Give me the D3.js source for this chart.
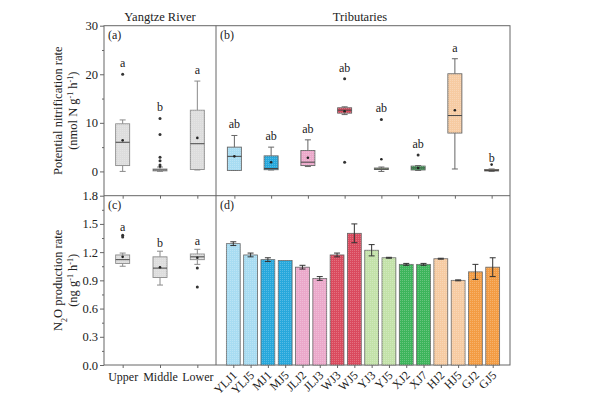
<!DOCTYPE html>
<html><head><meta charset="utf-8">
<script src="https://cdn.jsdelivr.net/npm/d3@7"></script>
<style>
body{margin:0;background:#fff}
text{font-family:"Liberation Serif","Times New Roman",serif;fill:#222}
</style>
</head><body><div id="chart"></div>
<script>
var rivers = ["Upper","Middle","Lower"]
var tribs = ["YLJ","MJ","JLJ","WJ","YJ","XJ","HJ","GJ"]
var sites = ["YLJ1","YLJ5","MJ1","MJ5","JLJ2","JLJ3","WJ3","WJ5","YJ3","YJ5","XJ2","XJ7","HJ2","HJ5","GJ2","GJ5"]
var tribColors = ["#a8dcf2","#27a8dc","#eba8ca","#da4a5e","#c3e2a9","#3db55b","#f6cba2","#f39c43"]

// boxes are [min, q1, median, q3, max]
var nitrRiverBox = [[0,1.2,6.0,9.8,10.6],[0,0.1,0.3,0.5,0.9],[0.3,0.4,5.7,12.6,18.6]]
var nitrRiverMean = [6.4,1.0,6.9]
var nitrRiverOut = [[20],[10.9,7.6,2.9,2.2,1.3],[]]
var nitrRiverSig = ["a","b","a"]

var nitrTribBox = [[0.2,0.2,3.1,5.0,7.4],[0.3,0.35,0.6,3.2,5.0],[1.0,1.2,1.9,4.3,6.5],[11.7,12.0,12.6,13.1,13.3],
                   [0,0.4,0.5,0.7,0.9],[0.2,0.3,0.7,1.1,1.2],[0.5,7.9,11.5,20.1,23.2],[0,0.1,0.2,0.4,0.5]]
var nitrTribMean = [3.1,1.9,2.8,12.4,2.5,0.7,12.6,1.4]
var nitrTribOut = [[],[],[],[19.1,1.9],[10.7],[3.4],[],[]]
var nitrTribSig = ["ab","ab","ab","ab","ab","ab","a","b"]

var n2oRiverBox = [[1.05,1.08,1.12,1.17,1.19],[0.85,0.93,1.03,1.15,1.21],[1.07,1.12,1.15,1.18,1.23]]
var n2oRiverMean = [1.15,1.04,1.14]
var n2oRiverOut = [[1.38,1.36],[],[1.03,0.83]]
var n2oRiverSig = ["a","b","a"]

var n2oSite = [1.29,1.17,1.12,1.11,1.04,0.92,1.17,1.40,1.22,1.14,1.07,1.07,1.13,0.90,0.99,1.04]
var n2oSiteErr = [0.02,0.02,0.02,0.0,0.02,0.02,0.02,0.10,0.06,0.005,0.01,0.01,0.005,0.005,0.08,0.10]

var W = 600, Hh = 404
var L = 104, M = 216, R = 510, T = 25.7, H = 195.7, B = 365
var frameCol = "#666"

var svg = d3.select("#chart").append("svg").attr("width",W).attr("height",Hh)

// faint dotted texture like the original fills
var pat = svg.append("defs").append("pattern").attr("id","dots").attr("width",2).attr("height",2).attr("patternUnits","userSpaceOnUse")
pat.append("rect").attr("width",1).attr("height",1).attr("fill","#fff").attr("opacity",0.22)

var xRiver = d3.scalePoint().domain(rivers).range([L,M]).padding(0.5)
var xTrib = d3.scalePoint().domain(tribs).range([M,R]).padding(0.5)
var xSite = d3.scalePoint().domain(sites).range([M,R]).padding(1)
var yNitr = d3.scaleLinear().domain([-5,30]).range([H,T])
var yN2o = d3.scaleLinear().domain([0,1.8]).range([B,H])

function boxes(cats,x,y,box,mean,out,sig,fill,stroke,off){
	var bw = 14, cw = 6
	var g = svg.append("g")
	cats.forEach(function(c,i){
		var b = box[i], cx = x(c)
		var gg = g.append("g")
		gg.append("line").attr("x1",cx).attr("x2",cx).attr("y1",y(b[4])).attr("y2",y(b[3])).attr("stroke",stroke)
		gg.append("line").attr("x1",cx).attr("x2",cx).attr("y1",y(b[1])).attr("y2",y(b[0])).attr("stroke",stroke)
		gg.append("line").attr("x1",cx-cw/2).attr("x2",cx+cw/2).attr("y1",y(b[4])).attr("y2",y(b[4])).attr("stroke",stroke)
		gg.append("line").attr("x1",cx-cw/2).attr("x2",cx+cw/2).attr("y1",y(b[0])).attr("y2",y(b[0])).attr("stroke",stroke)
		var bh = Math.max(1.5,y(b[1])-y(b[3]))
		gg.append("rect").attr("x",cx-bw/2).attr("width",bw)
			.attr("y",y(b[3])).attr("height",bh)
			.attr("fill",fill[i]).attr("stroke",stroke).attr("stroke-width",0.9)
		gg.append("rect").attr("x",cx-bw/2).attr("width",bw).attr("y",y(b[3])).attr("height",bh).attr("fill","url(#dots)")
		gg.append("line").attr("x1",cx-bw/2).attr("x2",cx+bw/2).attr("y1",y(b[2])).attr("y2",y(b[2])).attr("stroke","#444")
		gg.append("circle").attr("cx",cx).attr("cy",y(mean[i])).attr("r",1.3).attr("fill","#222")
		out[i].forEach(function(v){
			gg.append("circle").attr("cx",cx).attr("cy",y(v)).attr("r",1.5).attr("fill","#333")
		})
		var top = d3.max([b[4]].concat(out[i]))
		gg.append("text").attr("x",cx).attr("y",y(top)-off).attr("text-anchor","middle")
			.style("font-size","12px").text(sig[i])
	})
}

// frame
svg.append("rect").attr("x",L).attr("y",T).attr("width",R-L).attr("height",B-T)
	.attr("fill","none").attr("stroke",frameCol)
svg.append("line").attr("x1",M).attr("x2",M).attr("y1",T).attr("y2",B).attr("stroke",frameCol)
svg.append("line").attr("x1",L).attr("x2",R).attr("y1",H).attr("y2",H).attr("stroke",frameCol)

// bars
var bw = xSite.step()*0.8
var bars = svg.append("g")
sites.forEach(function(s,i){
	var cx = xSite(s), col = tribColors[Math.floor(i/2)]
	bars.append("rect").attr("x",cx-bw/2).attr("width",bw).attr("y",yN2o(n2oSite[i])).attr("height",B-yN2o(n2oSite[i]))
		.attr("fill",col).attr("stroke","#666").attr("stroke-width",0.8)
	bars.append("rect").attr("x",cx-bw/2).attr("width",bw).attr("y",yN2o(n2oSite[i])).attr("height",B-yN2o(n2oSite[i]))
		.attr("fill","url(#dots)")
	var e = n2oSiteErr[i]
	if (e>0){
		bars.append("line").attr("x1",cx).attr("x2",cx).attr("y1",yN2o(n2oSite[i]-e)).attr("y2",yN2o(n2oSite[i]+e)).attr("stroke","#333")
		bars.append("line").attr("x1",cx-3).attr("x2",cx+3).attr("y1",yN2o(n2oSite[i]+e)).attr("y2",yN2o(n2oSite[i]+e)).attr("stroke","#333")
		bars.append("line").attr("x1",cx-3).attr("x2",cx+3).attr("y1",yN2o(n2oSite[i]-e)).attr("y2",yN2o(n2oSite[i]-e)).attr("stroke","#333")
	}
})

boxes(rivers,xRiver,yNitr,nitrRiverBox,nitrRiverMean,nitrRiverOut,nitrRiverSig,["#ddd","#ddd","#ddd"],"#8a8a8a",7)
boxes(tribs,xTrib,yNitr,nitrTribBox,nitrTribMean,nitrTribOut,nitrTribSig,tribColors,"#666",7)
boxes(rivers,xRiver,yN2o,n2oRiverBox,n2oRiverMean,n2oRiverOut,n2oRiverSig,["#ddd","#ddd","#ddd"],"#8a8a8a",4)

// axes
function clean(g){ g.select(".domain").remove(); g.selectAll(".tick line").attr("stroke",frameCol); g.selectAll("text").style("font-size","12.5px").attr("fill","#222") }
svg.append("g").attr("transform","translate("+L+",0)")
	.call(d3.axisLeft(yNitr).tickValues([0,10,20,30]).tickSize(4).tickPadding(2)).call(clean)
svg.append("g").attr("transform","translate("+L+",0)")
	.call(d3.axisLeft(yNitr).tickValues([5,15,25]).tickSize(2).tickFormat("")).call(clean)
svg.append("g").attr("transform","translate("+L+",0)")
	.call(d3.axisLeft(yN2o).tickValues([0,0.3,0.6,0.9,1.2,1.5,1.8]).tickFormat(d3.format(".1f")).tickSize(4).tickPadding(2)).call(clean)
svg.append("g").attr("transform","translate("+L+",0)")
	.call(d3.axisLeft(yN2o).tickValues([0.15,0.45,0.75,1.05,1.35,1.65]).tickSize(2).tickFormat("")).call(clean)

svg.append("g").attr("transform","translate(0,"+H+")").call(d3.axisBottom(xRiver).tickSize(3).tickFormat("")).call(clean)
svg.append("g").attr("transform","translate(0,"+H+")").call(d3.axisBottom(xTrib).tickSize(3).tickFormat("")).call(clean)
var rx = svg.append("g").attr("transform","translate(0,"+B+")").call(d3.axisBottom(xRiver).tickSize(3).tickPadding(4)).call(clean)
rx.selectAll("text").style("font-size","12px")
var sx = svg.append("g").attr("transform","translate(0,"+B+")").call(d3.axisBottom(xSite).tickSize(3)).call(clean)
sx.selectAll(".tick text").attr("text-anchor","end").attr("dy",null).attr("y",0).style("font-size","12px")
	.attr("transform","translate(4,11) rotate(-45)")

// titles
svg.append("text").attr("x",(L+M)/2).attr("y",21).attr("text-anchor","middle").style("font-size","12.5px").text("Yangtze River")
svg.append("text").attr("x",(M+R)/2-3).attr("y",21).attr("text-anchor","middle").style("font-size","12.5px").text("Tributaries")

svg.append("text").attr("x",L+4).attr("y",T+13).style("font-size","12px").text("(a)")
svg.append("text").attr("x",M+4).attr("y",T+13).style("font-size","12px").text("(b)")
svg.append("text").attr("x",L+4).attr("y",H+13).style("font-size","12px").text("(c)")
svg.append("text").attr("x",M+4).attr("y",H+13).style("font-size","12px").text("(d)")

// y titles
function ytitle(cx,cy,parts){
	var t = svg.append("text").attr("transform","translate("+cx+","+cy+") rotate(-90)")
		.attr("text-anchor","middle").style("font-size","12.5px")
	parts.forEach(function(p){
		var s = t.append("tspan").text(p[0])
		if (p[1]=="sup") s.attr("baseline-shift","super").style("font-size","8px")
		if (p[1]=="sub") s.attr("baseline-shift","sub").style("font-size","8px")
	})
}
ytitle(62,(T+H)/2,[["Potential nitrification rate"]])
ytitle(77,(T+H)/2,[["(nmol N g"],["-1","sup"],[" h"],["-1","sup"],[")"]])
ytitle(62,(H+B)/2,[["N"],["2","sub"],["O production rate"]])
ytitle(77,(H+B)/2,[["(ng g"],["-1","sup"],[" h"],["-1","sup"],[")"]])
</script>
</body></html>
